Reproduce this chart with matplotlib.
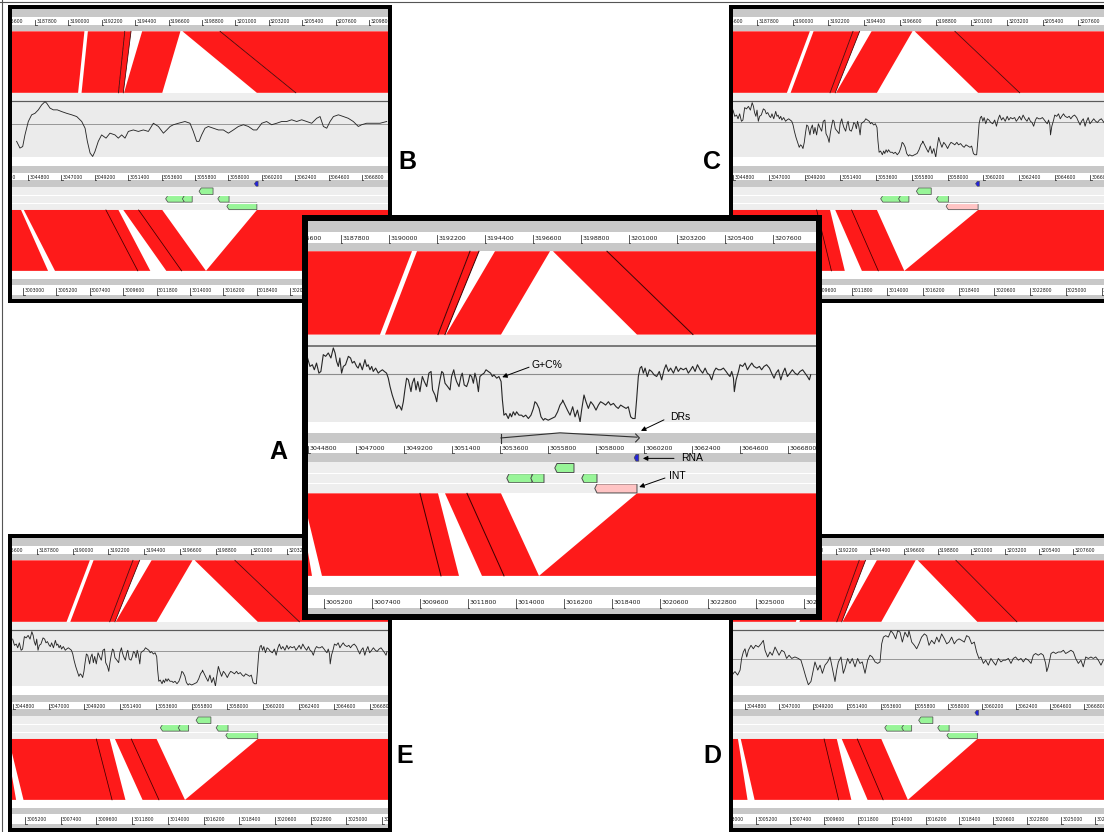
import numpy as np
import matplotlib
matplotlib.use("Agg")
import matplotlib.pyplot as plt
from matplotlib.patches import Polygon
from matplotlib.lines import Line2D

plt.rcParams["font.family"] = ["Liberation Sans", "DejaVu Sans"]

W, H = 1104, 832

# ---------------- data ----------------
# ruler tick values (bp) for genome 1 (top), genome 2 (middle), genome 3 (bottom)
ruler1_ticks = [3185600, 3187800, 3190000, 3192200, 3194400, 3196600, 3198800,
                3201000, 3203200, 3205400, 3207600, 3209800, 3212000]
ruler2_ticks = [3042600, 3044800, 3047000, 3049200, 3051400, 3053600, 3055800,
                3058000, 3060200, 3062400, 3064600, 3066800, 3069000]
ruler3_ticks = [3000800, 3003000, 3005200, 3007400, 3009600, 3011800, 3014000,
                3016200, 3018400, 3020600, 3022800, 3025000, 3027200]

# matches genome 1 -> genome 2
top_g1_start = [3160000, 3191283, 3193713, 3194858, 3197516, 3199991]
top_g1_end = [3191054, 3193713, 3194125, 3197379, 3199991, 3230000]
top_g2_start = [3017046, 3048329, 3050758, 3051124, 3059878, 3062444]
top_g2_end = [3048100, 3050758, 3051079, 3053645, 3062444, 3092453]
top_line_g1 = [3193713, 3194125, 3199991]
top_line_g2 = [3050758, 3051079, 3062444]

# matches genome 2 -> genome 3
bot_g2_start = [3014342, 3044525, 3051079, 3059878]
bot_g2_end = [3044342, 3050758, 3053645, 3090000]
bot_g3_start = [2974650, 3005108, 3012441, 3015054]
bot_g3_end = [3004650, 3011387, 3015054, 3045176]
bot_line_g2 = [3049933, 3052087]
bot_line_g3 = [3010562, 3013450]

# CDS features on genome 2 (row 0..2), last one is the integrase
feat_start = [3056212, 3054012, 3055112, 3057449, 3058045]
feat_end = [3056991, 3055066, 3055616, 3058045, 3059878]
feat_row = [0, 1, 1, 1, 2]
rna_start, rna_end = 3059830, 3059960
dr_left, dr_peak, dr_right = 3053645, 3056350, 3059878

# G+C% curves (position in kb after GC_ORIGIN)
GC_ORIGIN = 3044000
gc_kb_a = [0.78, 0.89, 1.00, 1.09, 1.19, 1.30, 1.39, 1.50, 1.61, 1.73,
           1.85, 1.96, 2.04, 2.11, 2.19, 2.26, 2.34, 2.42, 2.52, 2.65,
           2.75, 2.83, 2.92, 3.03, 3.10, 3.18, 3.29, 3.41, 3.49, 3.56,
           3.64, 3.72, 3.79, 3.90, 4.02, 4.10, 4.21, 4.30, 4.40, 4.48,
           4.56, 4.66, 4.76, 4.86, 4.94, 5.02, 5.09, 5.17, 5.24, 5.32,
           5.40, 5.52, 5.58, 5.67, 5.75, 5.83, 5.93, 6.04, 6.13, 6.24,
           6.34, 6.44, 6.51, 6.62, 6.70, 6.77, 6.85, 6.93, 7.00, 7.08,
           7.20, 7.31, 7.38, 7.48, 7.54, 7.61, 7.72, 7.81, 7.87, 7.96,
           8.07, 8.15, 8.22, 8.30, 8.38, 8.45, 8.53, 8.61, 8.68, 8.76,
           8.87, 8.96, 9.06, 9.17, 9.25, 9.32, 9.45, 9.55, 9.65, 9.71,
           9.78, 9.87, 9.98, 10.06, 10.13, 10.21, 10.29, 10.36, 10.47, 10.59,
           10.67, 10.78, 10.90, 11.02, 11.13, 11.20, 11.28, 11.39, 11.48, 11.59,
           11.66, 11.81, 11.97, 12.12, 12.24, 12.35, 12.46,
           12.47, 12.58, 12.69, 12.81, 12.93, 13.04, 13.15, 13.27, 13.34, 13.45,
           13.54, 13.65, 13.76, 13.88, 14.00, 14.11, 14.21, 14.34, 14.44, 14.57,
           14.67, 14.80, 14.92, 15.02, 15.13, 15.25, 15.38, 15.48, 15.59, 15.68,
           15.79, 15.86, 15.94, 16.02, 16.09, 16.17, 16.25, 16.35, 16.45, 16.55,
           16.66, 16.78, 16.90, 17.01, 17.12, 17.21, 17.32, 17.42, 17.55, 17.67,
           17.77, 17.88, 18.00, 18.13, 18.23, 18.34, 18.43, 18.54, 18.65, 18.77,
           18.89, 19.00, 19.10, 19.20, 19.30, 19.41, 19.50, 19.61, 19.72, 19.84,
           19.96, 20.07, 20.14, 20.22, 20.30, 20.34, 20.42, 20.53, 20.60, 20.72,
           20.83, 20.94, 21.03, 21.14, 21.24, 21.37, 21.49, 21.59, 21.70, 21.82,
           21.95, 22.05, 22.16, 22.25, 22.36, 22.47, 22.56, 22.66, 22.77, 22.89,
           23.00, 23.12, 23.23, 23.35, 23.47, 23.58, 23.69, 23.78, 23.84]
gc_a = [56.3, 53.8, 54.3, 52.8, 54.8, 51.8, 52.3, 57.3, 56.8, 57.8,
        56.3, 59.3, 57.8, 55.3, 53.8, 56.3, 51.8, 53.8, 54.3, 56.8,
        56.3, 54.8, 55.3, 53.8, 53.3, 54.8, 52.8, 55.8, 53.8, 54.3,
        52.8, 53.8, 52.3, 53.3, 51.8, 52.3, 52.8, 52.3, 51.8, 50.3,
        47.8, 45.3, 43.3, 41.3, 42.3, 41.8, 40.8, 43.3, 46.8, 50.3,
        49.8, 46.3, 48.8, 50.3, 46.8, 49.3, 46.3, 50.8, 49.3, 47.8,
        51.8, 52.3, 46.8, 45.3, 43.3, 46.8, 49.8, 52.3, 51.8, 48.8,
        47.8, 46.8, 50.8, 52.8, 50.8, 49.3, 47.8, 50.8, 51.8, 48.3,
        47.8, 49.3, 51.3, 50.8, 48.8, 51.8, 49.8, 46.3, 50.8, 51.3,
        51.8, 52.8, 52.3, 51.8, 50.8, 51.3, 50.3, 50.8, 49.3, 43.8,
        39.3, 39.8, 38.3, 39.8, 38.8, 40.3, 39.3, 40.3, 39.3, 39.3,
        38.8, 39.3, 38.3, 39.3, 41.3, 43.3, 42.8, 41.3, 38.8, 37.8,
        38.3, 37.8, 38.3, 38.8, 40.3, 42.3, 43.3,
        43.8, 42.3, 40.8, 39.3, 41.8, 38.8, 40.8, 37.3, 40.8, 45.3,
        43.3, 41.3, 43.3, 42.3, 40.8, 42.3, 43.3, 42.8, 42.3, 43.3,
        42.3, 42.8, 41.8, 41.3, 42.3, 41.8, 41.3, 41.8, 38.8, 38.3,
        38.3, 43.8, 50.8, 53.3, 53.8, 51.8, 53.3, 50.8, 52.8, 52.3,
        51.3, 50.8, 52.3, 49.8, 52.8, 54.3, 52.3, 53.3, 51.8, 53.8,
        52.3, 53.3, 52.8, 53.3, 51.8, 52.8, 53.8, 52.3, 54.3, 52.8,
        51.8, 53.3, 51.8, 51.3, 49.8, 52.3, 53.3, 52.8, 52.8, 53.3,
        52.3, 51.3, 50.8, 52.3, 50.3, 46.3, 49.8, 52.3, 54.3, 53.8,
        54.8, 52.8, 53.8, 54.8, 53.8, 53.3, 53.8, 52.8, 53.8, 54.3,
        53.3, 51.8, 50.3, 51.8, 52.8, 49.8, 51.8, 53.3, 50.8, 51.8,
        52.8, 51.8, 51.3, 52.3, 52.8, 51.8, 50.8, 49.8, 51.3]

gc_kb_b = [0.05, 0.27, 0.45, 0.60, 0.82, 1.04, 1.26, 1.48, 1.70, 1.92,
           2.03, 2.25, 2.47, 2.73, 3.02, 3.35, 3.68, 4.01, 4.34, 4.56,
           4.71, 4.89, 5.06, 5.21, 5.43, 5.65, 5.94, 6.20, 6.53, 6.75,
           6.97, 7.19, 7.41, 7.74, 8.07, 8.40, 8.73, 9.06, 9.39, 9.72,
           9.94, 10.16, 10.38, 10.71, 11.14, 11.47, 11.69, 11.91, 12.07, 12.24,
           12.46, 12.68, 13.01, 13.34, 13.67, 14.00, 14.33, 14.66, 14.99, 15.32,
           15.65, 15.87, 16.20, 16.52, 16.85, 17.18, 17.51, 17.84, 18.17, 18.50,
           18.83, 19.16, 19.49, 19.82, 20.04, 20.26, 20.48, 20.70, 20.92, 21.25,
           21.58, 21.90, 22.23, 22.56, 22.78, 23.11, 23.55, 23.99, 24.43]
gc_b = [43.7, 41.0, 41.6, 46.3, 51.7, 54.4, 55.0, 56.4, 58.4, 59.7,
        59.1, 57.1, 56.4, 56.4, 55.7, 55.0, 54.4, 53.7, 51.7, 49.0,
        43.7, 39.0, 37.6, 39.6, 43.7, 46.3, 45.0, 47.0, 46.3, 45.0,
        46.3, 45.0, 47.7, 48.3, 47.7, 48.3, 47.7, 51.0, 49.7, 47.0,
        48.3, 49.7, 50.4, 51.0, 51.7, 51.0, 47.7, 43.7, 43.7, 46.3,
        49.0, 49.7, 49.0, 48.3, 48.3, 47.0, 48.3, 49.7, 50.4, 49.7,
        48.3, 48.3, 51.0, 51.7, 50.4, 51.0, 51.7, 51.7, 52.4, 51.7,
        52.4, 51.7, 51.0, 53.0, 53.7, 49.7, 49.0, 51.7, 53.7, 54.4,
        53.7, 53.0, 51.7, 49.7, 50.4, 51.0, 51.0, 51.0, 51.7]

gc_kb_d = [-0.07, 0.04, 0.15, 0.32, 0.48, 0.58, 0.69, 0.80, 0.91, 1.02,
           1.19, 1.34, 1.49, 1.67, 1.84, 1.99, 2.10, 2.27, 2.42, 2.57,
           2.75, 2.85, 3.01, 3.18, 3.35, 3.50, 3.66, 3.83, 4.04, 4.26,
           4.43, 4.59, 4.74, 4.91, 5.08, 5.23, 5.34, 5.52, 5.67, 5.82,
           5.99, 6.16, 6.32, 6.47, 6.64, 6.75, 6.86, 7.03, 7.18, 7.29,
           7.46, 7.61, 7.76, 7.94, 8.11, 8.26, 8.41, 8.59, 8.76, 8.91,
           9.06, 9.24, 9.41, 9.56, 9.67, 9.78, 9.93, 10.10, 10.27, 10.43,
           10.58, 10.71, 10.86, 11.01, 11.18, 11.36, 11.44, 11.62, 11.79, 11.94,
           12.09, 12.26, 12.44, 12.59, 12.74, 12.91, 13.09, 13.24, 13.39, 13.56,
           13.74, 13.89, 14.04, 14.21, 14.38, 14.54, 14.69, 14.86, 15.03, 15.18,
           15.34, 15.51, 15.68, 15.83, 15.98, 16.11, 16.27, 16.42, 16.59, 16.76,
           16.91, 17.07, 17.24, 17.41, 17.56, 17.71, 17.89, 18.06, 18.21, 18.36,
           18.54, 18.71, 18.86, 19.01, 19.19, 19.36, 19.51, 19.66, 19.83, 20.01,
           20.16, 20.31, 20.38, 20.48, 20.66, 20.81, 20.96, 21.13, 21.31, 21.46,
           21.61, 21.78, 21.95, 22.11, 22.26, 22.43, 22.60, 22.75, 22.91, 23.08,
           23.25, 23.40, 23.56, 23.73, 23.90, 24.05]
gc_d = [41.2, 42.5, 43.2, 41.8, 43.8, 48.5, 51.1, 52.4, 49.1, 51.8,
        53.8, 52.4, 53.8, 53.1, 54.4, 55.8, 51.8, 49.1, 51.1, 49.8,
        53.1, 51.8, 49.8, 51.8, 51.1, 48.5, 49.8, 48.5, 49.1, 48.5,
        47.8, 44.5, 41.2, 37.9, 39.2, 43.8, 47.1, 43.8, 45.8, 42.5,
        45.8, 47.1, 49.1, 44.5, 39.2, 43.8, 47.1, 49.1, 42.5, 44.5,
        48.5, 46.5, 48.5, 45.1, 48.5, 46.5, 47.1, 42.5, 47.8, 49.8,
        49.1, 47.1, 46.5, 47.1, 54.4, 57.1, 57.7, 57.1, 59.7, 58.4,
        56.4, 59.7, 59.1, 55.1, 59.1, 57.1, 59.7, 55.1, 53.8, 52.4,
        54.4, 57.1, 58.4, 57.7, 53.8, 55.8, 54.4, 57.1, 55.1, 58.4,
        56.4, 54.4, 55.1, 57.1, 54.4, 55.8, 56.4, 55.8, 55.1, 57.7,
        57.1, 54.4, 55.1, 51.1, 48.5, 49.1, 46.5, 47.8, 45.8, 48.5,
        47.1, 45.8, 48.5, 47.1, 47.8, 47.8, 48.5, 46.5, 48.5, 49.1,
        47.8, 48.5, 47.1, 48.5, 47.8, 46.5, 49.8, 50.5, 49.8, 50.5,
        49.8, 46.5, 43.2, 45.1, 50.5, 51.1, 50.5, 51.1, 51.1, 51.8,
        50.5, 51.1, 51.8, 51.1, 48.5, 46.5, 47.8, 45.1, 49.1, 48.5,
        49.1, 48.5, 49.1, 47.8, 45.8, 47.8]

gc_curves = {"a": (gc_kb_a, gc_a), "b": (gc_kb_b, gc_b), "d": (gc_kb_d, gc_d)}
gc_mean = {"a": 51.6, "b": 50.75, "d": 48.1}
GC_LO, GC_HI = 37.2, 60.0

# ---------------- style ----------------
GREY = "#c8c8c8"
LIGHT = "#eeeeee"
GCBG = "#ebebeb"
RED = "#fe1a1a"
GREEN = "#98f598"
PINK = "#ffc4c4"
BLUE = "#2424d8"

BANDS = [(0.000, 0.028, GREY), (0.028, 0.056, "white"), (0.056, 0.077, GREY),
         (0.077, 0.289, "white"), (0.289, 0.317, LIGHT), (0.317, 0.512, GCBG),
         (0.512, 0.540, "white"), (0.540, 0.565, GREY), (0.565, 0.591, "white"),
         (0.591, 0.614, GREY), (0.614, 0.693, LIGHT), (0.693, 0.931, "white"),
         (0.931, 0.951, GREY), (0.951, 0.985, "white"), (0.985, 1.001, GREY)]
TOP_BAND = (0.077, 0.289)
BOT_BAND = (0.693, 0.903)
GC_BAND = (0.317, 0.512)
R1, R2, R3 = (0.028, 0.056), (0.565, 0.591), (0.951, 0.985)
ROWS = [(0.617, 0.640), (0.643, 0.666), (0.669, 0.692)]

panels = [
    dict(label="B", box=(8, 5, 392, 303), lab=(407, 162), frame=4,
         left=(3186284, 3043746, 3002275), span=24770, gc="b", int_col=GREEN, rna=True),
    dict(label="C", box=(729, 5, 1113, 303), lab=(712, 162), frame=4,
         left=(3186322, 3044780, 3004500), span=23162, gc="a", int_col=PINK, rna=True),
    dict(label="E", box=(8, 534, 392, 832), lab=(405, 756), frame=4,
         left=(3186260, 3044738, 3004399), span=23162, gc="a", int_col=GREEN, rna=False),
    dict(label="D", box=(729, 534, 1113, 832), lab=(712, 756), frame=4,
         left=(3185525, 3044021, 3003707), span=24400, gc="d", int_col=GREEN, rna=True),
    dict(label="A", box=(302, 215, 822, 620), lab=(278, 452), frame=6,
         left=(3186288, 3044800, 3004467), span=23283, gc="a", int_col=PINK, rna=True,
         notes=True),
]


def fig_rect(x0, y0, x1, y1):
    return [x0 / W, 1 - y1 / H, (x1 - x0) / W, (y1 - y0) / H]


def draw_ruler(ax, ticks, off, band, fs, bp_px, sc):
    y0, y1 = band
    lo, hi = ax.get_xlim()
    for t in ticks:
        x = t - off
        # skip labels that would fall completely outside the panel
        if x + 30 * sc * bp_px < lo or x > hi:
            continue
        ax.plot([x, x], [y0 + 0.3 * (y1 - y0), y1], color="#404040", lw=0.6)
        ax.plot([x, x + 1.5 * bp_px], [y1, y1], color="#404040", lw=0.6)
        ax.text(x + 1.3 * bp_px, (y0 + y1) / 2 + 0.002, str(t), fontsize=fs,
                family="DejaVu Sans", color="#1a1a1a", ha="left", va="center",
                clip_on=True)


def draw_matches(ax, band, up_s, up_e, lo_s, lo_e, up_off, lo_off):
    y0, y1 = band
    for a, b, c, d in zip(up_s, up_e, lo_s, lo_e):
        ax.add_patch(Polygon([(a - up_off, y0), (b - up_off, y0),
                              (d - lo_off, y1), (c - lo_off, y1)],
                             closed=True, facecolor=RED, edgecolor="none"))


def draw_feature(ax, s, e, row, color, tip, lw):
    y0, y1 = row
    ym = (y0 + y1) / 2
    ax.add_patch(Polygon([(s, y0), (e, y0), (e, y1), (s, y1), (s - tip, ym)],
                         closed=True, facecolor=color, edgecolor="#4a4a4a", lw=lw))


fig = plt.figure(figsize=(W / 100, H / 100), dpi=100)

# thin outer border (top and left)
fig.add_artist(Line2D([0, 1], [1 - 1.5 / H, 1 - 1.5 / H], transform=fig.transFigure,
                      color="#555555", lw=0.8))
fig.add_artist(Line2D([1.5 / W, 1.5 / W], [0, 1], transform=fig.transFigure,
                      color="#555555", lw=0.8))

for i, p in enumerate(panels):
    z = 10 + 10 * i
    x0, y0, x1, y1 = p["box"]
    fr = p["frame"]
    fax = fig.add_axes(fig_rect(x0, y0, x1, y1), zorder=z)
    fax.set_facecolor("black")
    fax.set_xticks([])
    fax.set_yticks([])
    for s in fax.spines.values():
        s.set_visible(False)

    ix0, iy0, ix1, iy1 = x0 + fr, y0 + fr, x1 - fr, y1 - fr
    iw, ih = ix1 - ix0, iy1 - iy0
    l1, l2, l3 = p["left"]
    span = p["span"]
    bp_px = span / iw
    sc = iw / 508.0
    off1, off3 = l1 - l2, l3 - l2

    ax = fig.add_axes(fig_rect(ix0, iy0, ix1, iy1), zorder=z + 1)
    ax.set_xlim(l2, l2 + span)
    ax.set_ylim(1, 0)
    ax.set_axis_off()

    for b0, b1, c in BANDS:
        ax.axhspan(b0, b1, color=c, lw=0)
    ax.axhline(GC_BAND[0], color="#5a5a5a", lw=0.9 * sc + 0.2)

    # rulers
    fs = 4.5 * sc
    draw_ruler(ax, ruler1_ticks, off1, R1, fs, bp_px, sc)
    draw_ruler(ax, ruler2_ticks, 0, R2, fs, bp_px, sc)
    draw_ruler(ax, ruler3_ticks, off3, R3, fs, bp_px, sc)

    # comparisons
    draw_matches(ax, TOP_BAND, top_g1_start, top_g1_end, top_g2_start, top_g2_end, off1, 0)
    draw_matches(ax, BOT_BAND, bot_g2_start, bot_g2_end, bot_g3_start, bot_g3_end, 0, off3)
    for a, b in zip(top_line_g1, top_line_g2):
        ax.plot([a - off1, b], list(TOP_BAND), color="#3a0000", lw=0.6 * sc + 0.1)
    for a, b in zip(bot_line_g2, bot_line_g3):
        ax.plot([a, b - off3], list(BOT_BAND), color="#3a0000", lw=0.6 * sc + 0.1)

    # feature rows
    ax.axhline(0.6415, color="white", lw=0.8)
    ax.axhline(0.6675, color="white", lw=0.8)
    tip = 2.2 * bp_px
    for k, (s, e, r) in enumerate(zip(feat_start, feat_end, feat_row)):
        col = p["int_col"] if k == len(feat_start) - 1 else GREEN
        draw_feature(ax, s, e, ROWS[r], col, tip, 0.7 * sc)
    if p["rna"]:
        draw_feature(ax, rna_start, rna_end, (0.594, 0.611), BLUE, tip * 0.8, 0.5 * sc)

    # G+C% plot
    kb, gc = gc_curves[p["gc"]]
    gx = fig.add_axes(fig_rect(ix0, iy0 + GC_BAND[0] * ih, ix1, iy0 + GC_BAND[1] * ih),
                      zorder=z + 2)
    gx.set_xlim(l2, l2 + span)
    gx.set_ylim(GC_LO, GC_HI)
    gx.set_axis_off()
    gx.axhline(gc_mean[p["gc"]], color="#8c8c8c", lw=0.7 * sc + 0.1)
    gx.plot(GC_ORIGIN + np.array(kb) * 1000, gc, color="#262626", lw=0.65 * sc + 0.15)

    if p.get("notes"):
        # direct repeats bracket
        ax.plot([dr_left, dr_left], [0.541, 0.564], color="#303030", lw=0.8)
        ax.plot([dr_left, dr_peak, dr_right], [0.552, 0.539, 0.550], color="#303030", lw=0.8)
        ax.plot([dr_right - 60, dr_right + 110, dr_right - 60],
                [0.542, 0.552, 0.562], color="#303030", lw=0.8)
        arrow = dict(arrowstyle="-|>", color="black", lw=0.7, shrinkA=0, shrinkB=0,
                     mutation_scale=7)
        ax.text(3055066, 0.366, "G+C%", fontsize=7.5, ha="left", va="center")
        gx.annotate("", xy=(3053700, 50.6), xytext=(3054930, 0.372),
                    textcoords=ax.transData, arrowprops=arrow)
        ax.text(3061390, 0.500, "DRs", fontsize=7.5, ha="left", va="center")
        ax.annotate("", xy=(3060060, 0.534), xytext=(3061115, 0.506), arrowprops=arrow)
        ax.text(3061895, 0.604, "RNA", fontsize=7.5, ha="left", va="center")
        ax.annotate("", xy=(3060150, 0.604), xytext=(3061574, 0.604), arrowprops=arrow)
        ax.text(3061344, 0.650, "INT", fontsize=7.5, ha="left", va="center")
        ax.annotate("", xy=(3059980, 0.677), xytext=(3061161, 0.654), arrowprops=arrow)

    lx, ly = p["lab"]
    fig.text(lx / W, 1 - ly / H, p["label"], fontsize=18, fontweight="bold",
             ha="center", va="center", zorder=200)

fig.savefig("out.png", dpi=100)
